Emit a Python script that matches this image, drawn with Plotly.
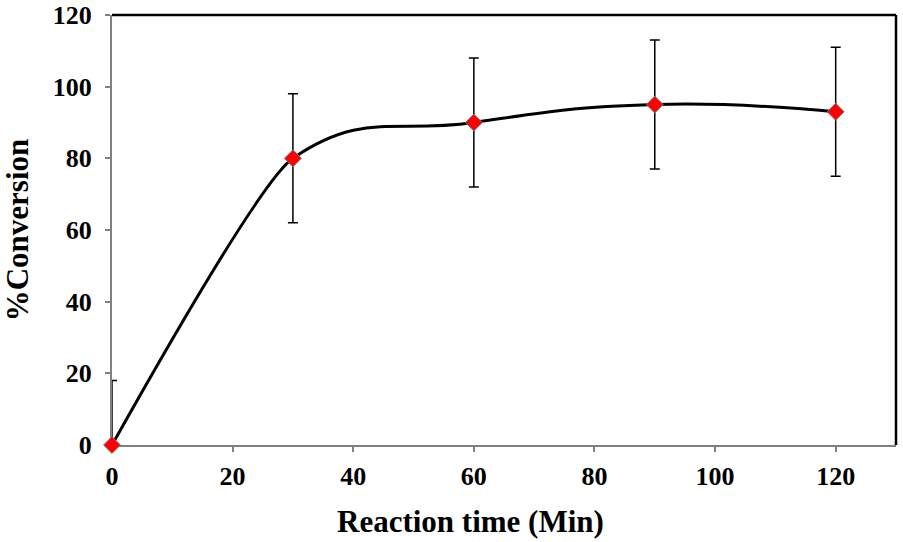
import plotly.graph_objects as go

time_min = [0, 30, 60, 90, 120]
conversion = [0, 80, 90, 95, 93]
error = [18, 18, 18, 18, 18]

x_ticks = [0, 20, 40, 60, 80, 100, 120]
y_ticks = [0, 20, 40, 60, 80, 100, 120]

font_family = "Liberation Serif, Times New Roman, serif"

X_MAX = 130
SPLIT = time_min[1]            # curve style changes at the 2nd point
d = SPLIT / X_MAX              # domain fraction of the split

marker_style = dict(symbol="diamond", size=13, color="red", line=dict(color="#777777", width=1))

fig = go.Figure()

# error bars (clipped by the plot area, like the original)
fig.add_trace(go.Scatter(
    x=time_min, y=conversion, mode="markers",
    marker=dict(size=1, color="rgba(0,0,0,0)"),
    error_y=dict(type="data", array=error, visible=True, color="black", thickness=1.5, width=5),
    hoverinfo="skip", showlegend=False, cliponaxis=True,
))

# smoothed curve, right part (from 30 onward)
fig.add_trace(go.Scatter(
    x=time_min, y=conversion, mode="lines", xaxis="x2",
    line=dict(color="black", width=3, shape="spline", smoothing=1.3),
    hoverinfo="skip", showlegend=False,
))
fig.add_trace(go.Scatter(
    x=time_min[2:], y=conversion[2:], mode="markers", xaxis="x2",
    marker=marker_style, showlegend=False, cliponaxis=False,
))

# smoothed curve, left part (0 to 30)
fig.add_trace(go.Scatter(
    x=time_min, y=conversion, mode="lines", xaxis="x3",
    line=dict(color="black", width=3, shape="spline", smoothing=0.45),
    hoverinfo="skip", showlegend=False,
))
fig.add_trace(go.Scatter(
    x=time_min[:2], y=conversion[:2], mode="markers", xaxis="x3",
    marker=marker_style, showlegend=False, cliponaxis=False,
))

axis_font = dict(family=font_family, size=26, color="black")
title_font = dict(family=font_family, size=31, color="black")
fig.update_layout(
    width=903, height=542,
    margin=dict(l=112, r=7, t=15, b=97, autoexpand=False),
    plot_bgcolor="rgba(0,0,0,0)", paper_bgcolor="white",
    font=dict(family=font_family, color="black"),
    xaxis=dict(
        domain=[0, 1],
        range=[0, X_MAX], tickvals=x_ticks, ticktext=[f"<b>{v}</b>" for v in x_ticks],
        showgrid=False, zeroline=False, showline=True, linecolor="#808080", linewidth=2,
        ticks="outside", ticklen=5, tickcolor="#808080", tickwidth=1.5,
        tickfont=axis_font, ticklabelstandoff=2, automargin=False,
    ),
    xaxis2=dict(domain=[d, 1], range=[SPLIT, X_MAX], anchor="y", visible=False, fixedrange=True),
    xaxis3=dict(domain=[0, d], range=[0, SPLIT], anchor="y", visible=False, fixedrange=True),
    yaxis=dict(
        range=[0, 120], tickvals=y_ticks, ticktext=[f"<b>{v}</b>" for v in y_ticks],
        showgrid=False, zeroline=False, showline=True, linecolor="#808080", linewidth=2,
        ticks="outside", ticklen=5, tickcolor="#808080", tickwidth=1.5,
        tickfont=axis_font, ticklabelstandoff=8, automargin=False,
        title=dict(text="<b>%Conversion</b>", font=title_font, standoff=28),
    ),
    annotations=[
        dict(text="<b>Reaction time (Min)</b>", xref="paper", yref="paper",
             x=(470 - 112) / 784, y=0, xanchor="center", yanchor="middle",
             yshift=-76, showarrow=False, font=title_font),
    ],
    shapes=[
        dict(type="line", xref="paper", yref="paper", x0=0, x1=1, y0=1, y1=1,
             line=dict(color="black", width=2.5)),
        dict(type="line", xref="paper", yref="paper", x0=1, x1=1, y0=0, y1=1,
             line=dict(color="black", width=2.5)),
    ],
)

fig.write_html("out.html", config={"displayModeBar": False},
               post_script="document.body.style.margin='0';")
